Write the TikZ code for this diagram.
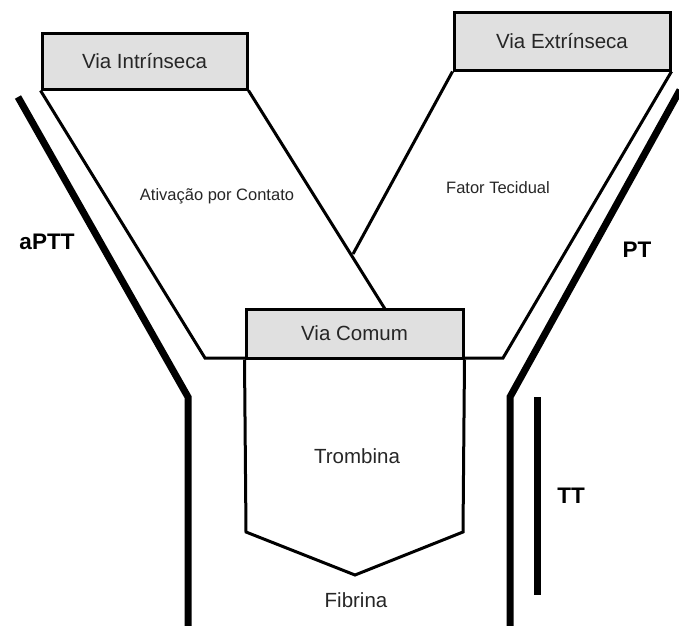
\documentclass[tikz,border=0pt]{standalone}
\usepackage{fontspec}
\setmainfont{Liberation Sans}
\begin{document}
\begin{tikzpicture}[x=1pt,y=-1pt,
  pathbox/.style={draw=black, line width=3pt, fill=black!12, inner sep=0pt, text=black!85},
  thin/.style={line width=3pt},
  thick line/.style={line width=7pt},
  big/.style={font=\fontsize{20.5}{24}\selectfont},
  small/.style={font=\fontsize{16.5}{20}\selectfont, text=black!85},
  lab/.style={font=\fontsize{22.5}{26}\selectfont\bfseries}]
\useasboundingbox (0,0) rectangle (679,625);
% boxes
\node[pathbox, big, minimum width=205pt, minimum height=56pt] (vi) at (144.5,61) {Via Intrínseca};
\node[pathbox, big, minimum width=216pt, minimum height=58pt] (ve) at (562,41) {Via Extrínseca};
% outline of the funnel
\coordinate (lc) at (205,358);
\coordinate (rc) at (503,358);
\coordinate (vcin) at (385,309);
\coordinate (cross) at (353,254);
\draw[thin, line join=miter] (vi.south west) -- (lc) -- (rc) -- (ve.south east);
\draw[thin] (vi.south east) -- (vcin);
\draw[thin] (ve.south west) -- (cross);
% common pathway
\node[pathbox, big, minimum width=217pt, minimum height=49pt] (vc) at (354.5,333.5) {Via Comum};
\coordinate (pl) at (246,532);
\coordinate (pt) at (355,575);
\coordinate (pr) at (463,532);
\draw[thin, line join=miter] (vc.south west) -- (pl) -- (pt) -- (pr) -- (vc.south east);
% texts
\node[small] (atv) at (217,196) {Ativação por Contato};
\node[small] (ft) at (498,188) {Fator Tecidual};
\node[big, text=black!85] (tr) at (357,456) {Trombina};
\node[big, text=black!85] (fb) at (356,600) {Fibrina};
% thick test lines
\draw[thick line] (18,97) -- (188,397) -- (188,630);
\draw[thick line] (680,90) -- (510,397) -- (510,630);
\draw[thick line] (537,397) -- (537,595);
\node[lab] (aptt) at (47,242) {aPTT};
\node[lab] (ptl) at (637,250) {PT};
\node[lab] (ttl) at (571,496) {TT};
\end{tikzpicture}
\end{document}
